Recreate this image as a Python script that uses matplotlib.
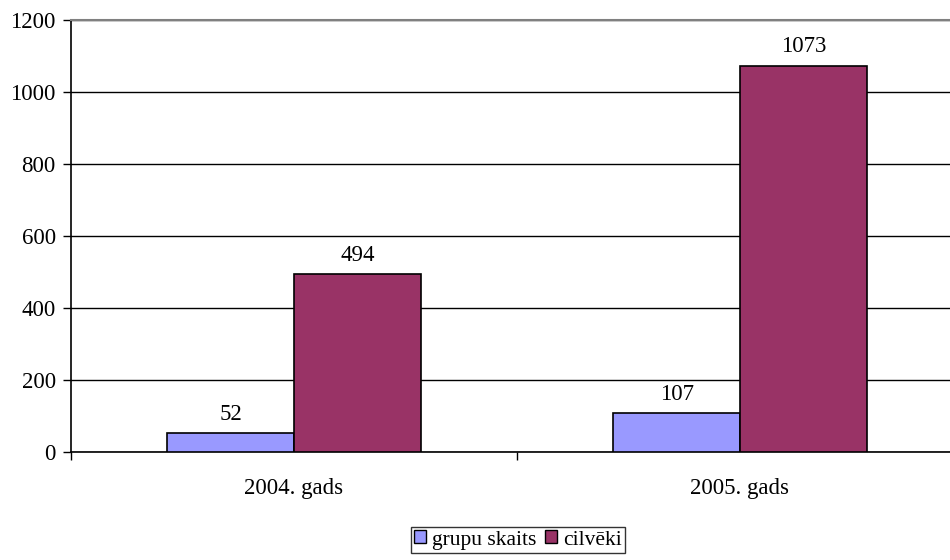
import matplotlib
matplotlib.use("Agg")
import matplotlib.pyplot as plt
from matplotlib.patches import Patch
import numpy as np

categories = ["2004. gads", "2005. gads"]
series_names = ["grupu skaits", "cilvēki"]
grupu_skaits = [52, 107]
cilveki = [494, 1073]
y_ticks = [0, 200, 400, 600, 800, 1000, 1200]

plt.rcParams['font.family'] = ['Liberation Serif', 'DejaVu Serif']

fig = plt.figure(figsize=(9.5, 5.6), dpi=100)
ax = fig.add_axes([71/950, 1-452/560, (963-71)/950, (452-20)/560])

x = np.arange(len(categories))
w = 0.284
colors = ["#9999FF", "#993366"]
b1 = ax.bar(x - w/2, grupu_skaits, w, color=colors[0], edgecolor="black", linewidth=1.2, zorder=3)
b2 = ax.bar(x + w/2, cilveki, w, color=colors[1], edgecolor="black", linewidth=1.2, zorder=3)

for bars, vals in ((b1, grupu_skaits), (b2, cilveki)):
    for rect, v in zip(bars, vals):
        ax.annotate(str(v), (rect.get_x() + rect.get_width()/2, v), xytext=(0, 6),
                    textcoords="offset points", ha="center", va="bottom", fontsize=16.5)

ax.set_xlim(-0.5, 1.5)
ax.set_ylim(0, 1200)
ax.set_yticks(y_ticks)
ax.set_yticklabels([str(t) for t in y_ticks], fontsize=16.5)
ax.yaxis.grid(True, color="black", linewidth=1.0, zorder=0)
ax.set_axisbelow(True)

ax.set_xticks([-0.5, 0.5, 1.5])
ax.set_xticklabels(["", "", ""])
ax.set_xticks(x, minor=True)
ax.set_xticklabels(categories, minor=True, fontsize=16.5)
ax.tick_params(axis="x", which="minor", length=0, pad=19)
ax.tick_params(axis="x", which="major", length=6, width=1, direction="out")
ax.tick_params(axis="y", length=6, width=1, direction="out", pad=5)

for s in ("left", "bottom"):
    ax.spines[s].set_color("black")
    ax.spines[s].set_linewidth(1.2)
ax.spines["top"].set_color("#808080")
ax.spines["top"].set_linewidth(1.5)
ax.spines["right"].set_visible(False)

handles = [Patch(facecolor=c, edgecolor="black", label=n) for c, n in zip(colors, series_names)]
leg = fig.legend(handles=handles, loc="center", bbox_to_anchor=(518/950, 1-540/560), ncol=2,
                 fontsize=15.5, frameon=True, fancybox=False, edgecolor="black",
                 handlelength=0.55, handleheight=0.55, handletextpad=0.3, columnspacing=0.4,
                 borderpad=0.15, borderaxespad=0)
leg.get_frame().set_linewidth(1.0)

fig.savefig("out.png", dpi=100)
